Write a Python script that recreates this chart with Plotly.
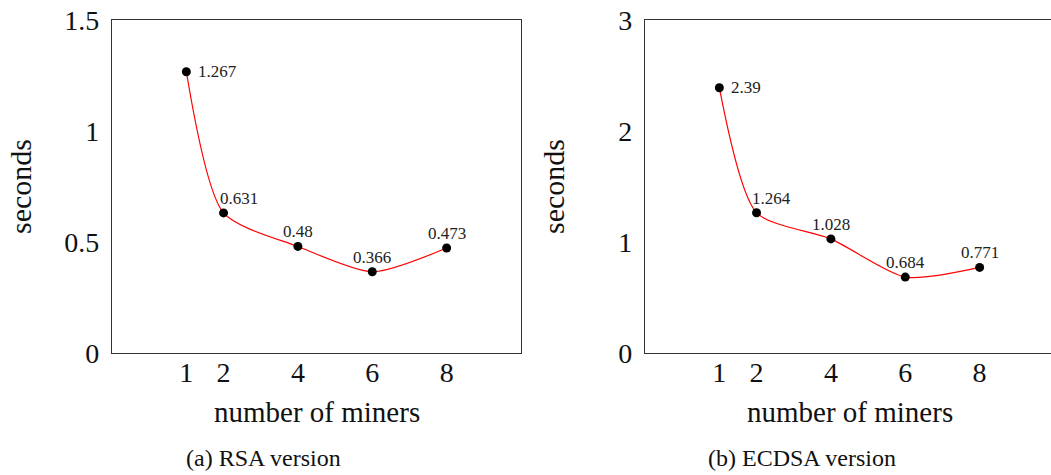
import plotly.graph_objects as go

# Number of miners on the x axis (shared by both panels)
miners = [1, 2, 4, 6, 8]
x_ticks = [1, 2, 4, 6, 8]

# Block processing time in seconds
rsa_seconds = [1.267, 0.631, 0.48, 0.366, 0.473]
ecdsa_seconds = [2.39, 1.264, 1.028, 0.684, 0.771]

rsa_yticks = [0, 0.5, 1, 1.5]
ecdsa_yticks = [0, 1, 2, 3]

FONT = "Liberation Serif, DejaVu Serif, serif"
W, H = 1051, 475


def px_x(p):
    return p / W


def px_y(p):
    return 1 - p / H


fig = go.Figure()


def add_series(xs, ys, xa, ya):
    fig.add_trace(go.Scatter(
        x=xs, y=ys, xaxis=xa, yaxis=ya,
        mode="lines+markers",
        line=dict(color="#ff0000", width=1.2, shape="spline", smoothing=0.7),
        marker=dict(color="black", size=9),
        cliponaxis=False,
        showlegend=False,
        hoverinfo="skip",
    ))
    # value labels: first one to the right of its point, the rest above
    for i, (xv, yv) in enumerate(zip(xs, ys)):
        if i == 0:
            kw = dict(xanchor="left", yanchor="middle", xshift=11, yshift=0)
        elif i == 1:
            kw = dict(xanchor="center", yanchor="bottom", xshift=15, yshift=4)
        else:
            kw = dict(xanchor="center", yanchor="bottom", xshift=0, yshift=4)
        fig.add_annotation(
            x=xv, y=yv, xref=xa, yref=ya, text=str(yv), showarrow=False,
            borderpad=0, font=dict(family=FONT, size=17, color="#222"), **kw,
        )


add_series(miners, rsa_seconds, "x", "y")
add_series(miners, ecdsa_seconds, "x2", "y2")

y_dom = [px_y(353), px_y(20)]
axis_common = dict(
    showgrid=False, zeroline=False, showline=True, linecolor="#333",
    linewidth=1.3, ticks="", automargin=False,
    tickfont=dict(family=FONT, size=28, color="#111"),
)

fig.update_layout(
    template="none",
    width=W, height=H,
    margin=dict(l=0, r=0, t=0, b=0),
    paper_bgcolor="white", plot_bgcolor="white",
    font=dict(family=FONT, color="#111"),
    xaxis=dict(domain=[px_x(112), px_x(521)], range=[-1, 10],
               tickvals=x_ticks, mirror=True, anchor="y",
               ticklabelstandoff=-6, **axis_common),
    yaxis=dict(domain=y_dom, range=[0, 1.5], tickvals=rsa_yticks,
               ticktext=["0", "0.5", "1", "1.5"], mirror=True, anchor="x",
               ticklabelstandoff=6, **axis_common),
    xaxis2=dict(domain=[px_x(645), 1.0], range=[-1, 9.92],
                tickvals=x_ticks, mirror=True, anchor="y2",
                ticklabelstandoff=-6, **axis_common),
    yaxis2=dict(domain=y_dom, range=[0, 3], tickvals=ecdsa_yticks,
                mirror=False, anchor="x2", ticklabelstandoff=6,
                **axis_common),
)

# Axis titles and sub-figure captions
texts = [
    ("number of miners", 316.5, 412, 29, 0),
    ("number of miners", 849.5, 412, 29, 0),
    ("seconds", 20, 187, 30, -90),
    ("seconds", 553, 187, 30, -90),
    ("(a) RSA version", 263.5, 458, 24, 0),
    ("(b) ECDSA version", 802, 458, 24, 0),
]
for t, x, y, s, ang in texts:
    fig.add_annotation(
        text=t, x=px_x(x), y=px_y(y), xref="paper", yref="paper",
        xanchor="center", yanchor="middle", showarrow=False,
        borderpad=0,
        textangle=ang, font=dict(family=FONT, size=s, color="#111"),
    )

fig.write_html("out.html")
